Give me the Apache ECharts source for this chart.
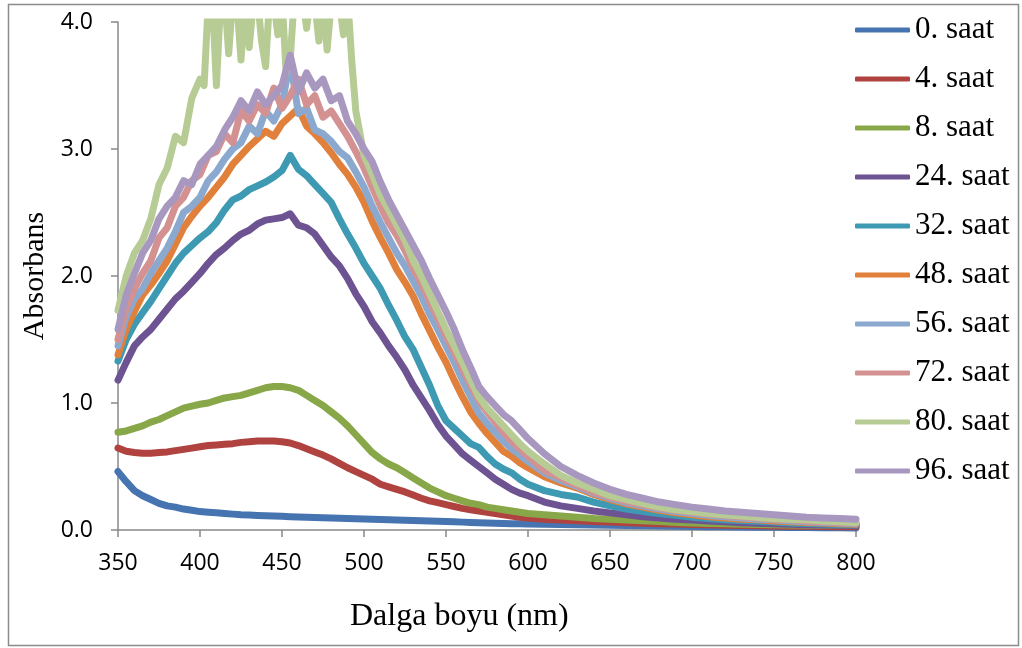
<!DOCTYPE html>
<html>
<head>
<meta charset="utf-8">
<script src="https://cdn.jsdelivr.net/npm/echarts@6/dist/echarts.min.js"></script>
<style>
  html, body { margin: 0; padding: 0; background: #ffffff; }
  #chart { width: 1022px; height: 648px; }
</style>
</head>
<body>
<div id="chart"></div>
<script>
// Wavelength grid (nm): 5 nm steps up to 600, then 10 nm steps
const wavelengths = [
  350,355,360,365,370,375,380,385,390,395,400,405,410,415,420,425,430,435,440,445,
  450,455,460,465,470,475,480,485,490,495,500,505,510,515,520,525,530,535,540,545,
  550,555,560,565,570,575,580,585,590,595,600,
  610,620,630,640,650,660,670,680,690,700,710,720,730,740,750,760,770,780,790,800
];

// The 80 h spectrum is very noisy around its maximum, so it is read on a finer grid there
const wavelengths80 = [
  350,355,360,365,370,375,380,385,390,395,400,
  402.5,405,407.5,410,412.5,415,417.5,420,422.5,425,427.5,430,432.5,435,437.5,440,442.5,445,447.5,450,
  452.5,455,457.5,460,462.5,465,467.5,470,472.5,475,477.5,480,482.5,485,487.5,490,492.5,495,
  500,505,510,515,520,525,530,535,540,545,550,555,560,565,570,575,580,585,590,595,600,
  610,620,630,640,650,660,670,680,690,700,710,720,730,740,750,760,770,780,790,800
];

const seriesNames = ['0. saat','4. saat','8. saat','24. saat','32. saat','48. saat','56. saat','72. saat','80. saat','96. saat'];

const abs0 = [
  0.46,0.38,0.31,0.27,0.24,0.21,0.19,0.18,0.165,0.155,0.145,0.14,0.135,0.13,0.125,0.12,0.118,0.115,0.112,0.11,
  0.108,0.105,0.103,0.10,0.098,0.096,0.094,0.092,0.09,0.088,0.086,0.084,0.082,0.08,0.078,0.076,0.074,0.072,0.07,0.068,
  0.066,0.064,0.062,0.06,0.058,0.056,0.054,0.052,0.05,0.049,0.048,
  0.046,0.044,0.042,0.04,0.038,0.036,0.034,0.032,0.03,0.028,0.026,0.025,0.024,0.022,0.021,0.02,0.019,0.018,0.017,0.016
];
const abs4 = [
  0.645,0.62,0.61,0.605,0.605,0.61,0.615,0.625,0.635,0.645,0.655,0.665,0.67,0.675,0.68,0.69,0.695,0.70,0.70,0.70,
  0.695,0.685,0.665,0.64,0.615,0.59,0.56,0.525,0.49,0.46,0.43,0.40,0.36,0.34,0.32,0.30,0.275,0.25,0.23,0.215,
  0.20,0.185,0.17,0.16,0.15,0.14,0.13,0.12,0.11,0.10,0.095,
  0.085,0.078,0.072,0.066,0.062,0.058,0.054,0.05,0.047,0.044,0.041,0.038,0.036,0.034,0.032,0.03,0.029,0.028,0.026,0.025
];
const abs8 = [
  0.77,0.78,0.80,0.82,0.85,0.87,0.90,0.93,0.96,0.975,0.99,1.00,1.02,1.04,1.05,1.06,1.08,1.10,1.12,1.13,
  1.13,1.12,1.10,1.06,1.02,0.98,0.93,0.88,0.82,0.75,0.68,0.61,0.56,0.52,0.49,0.45,0.41,0.37,0.33,0.30,
  0.27,0.25,0.23,0.21,0.20,0.18,0.17,0.16,0.15,0.14,0.13,
  0.12,0.11,0.10,0.09,0.085,0.078,0.072,0.066,0.06,0.056,0.052,0.049,0.046,0.044,0.042,0.04,0.038,0.037,0.036,0.035
];
const abs24 = [
  1.18,1.32,1.45,1.52,1.58,1.66,1.74,1.82,1.88,1.95,2.02,2.10,2.17,2.22,2.28,2.33,2.36,2.41,2.44,2.45,
  2.46,2.49,2.40,2.38,2.33,2.24,2.15,2.08,1.98,1.86,1.76,1.64,1.55,1.45,1.36,1.26,1.14,1.04,0.94,0.83,
  0.74,0.67,0.60,0.55,0.50,0.45,0.40,0.36,0.32,0.29,0.27,
  0.22,0.19,0.17,0.15,0.135,0.12,0.105,0.095,0.085,0.078,0.07,0.064,0.058,0.053,0.049,0.045,0.042,0.039,0.037,0.035
];
const abs32 = [
  1.33,1.50,1.62,1.71,1.80,1.90,2.00,2.10,2.18,2.24,2.30,2.35,2.42,2.52,2.60,2.63,2.68,2.71,2.74,2.78,
  2.83,2.95,2.84,2.79,2.72,2.65,2.58,2.45,2.33,2.22,2.10,2.00,1.90,1.77,1.65,1.52,1.42,1.28,1.14,0.98,
  0.86,0.80,0.74,0.68,0.65,0.58,0.52,0.48,0.45,0.40,0.36,
  0.31,0.28,0.26,0.22,0.19,0.165,0.145,0.13,0.115,0.10,0.09,0.08,0.075,0.068,0.062,0.056,0.052,0.048,0.044,0.04
];
const abs48 = [
  1.38,1.58,1.72,1.85,1.93,2.02,2.12,2.25,2.38,2.47,2.55,2.62,2.70,2.78,2.88,2.95,3.02,3.08,3.14,3.10,
  3.20,3.26,3.32,3.18,3.12,3.05,2.97,2.88,2.80,2.70,2.58,2.43,2.30,2.18,2.05,1.95,1.84,1.70,1.57,1.44,
  1.32,1.18,1.05,0.93,0.84,0.76,0.69,0.62,0.58,0.53,0.49,
  0.42,0.37,0.33,0.28,0.24,0.205,0.18,0.155,0.135,0.12,0.105,0.095,0.085,0.08,0.07,0.065,0.06,0.055,0.05,0.045
];
const abs56 = [
  1.45,1.68,1.82,1.90,2.02,2.12,2.22,2.35,2.50,2.55,2.62,2.75,2.82,2.92,3.00,3.05,3.18,3.12,3.30,3.22,
  3.35,3.70,3.28,3.32,3.15,3.12,3.06,2.98,2.93,2.82,2.70,2.55,2.42,2.30,2.18,2.08,1.96,1.84,1.70,1.58,
  1.45,1.32,1.18,1.05,0.92,0.84,0.77,0.70,0.64,0.59,0.54,
  0.45,0.39,0.34,0.29,0.25,0.215,0.19,0.165,0.145,0.13,0.115,0.105,0.095,0.085,0.08,0.07,0.065,0.06,0.055,0.05
];
const abs72 = [
  1.50,1.75,1.90,2.02,2.12,2.30,2.38,2.55,2.62,2.75,2.80,2.95,2.98,3.12,3.05,3.30,3.22,3.35,3.28,3.48,
  3.32,3.42,3.55,3.35,3.42,3.25,3.30,3.20,3.10,2.98,2.85,2.70,2.55,2.42,2.32,2.20,2.06,1.94,1.80,1.67,
  1.53,1.40,1.27,1.14,1.02,0.93,0.85,0.77,0.70,0.64,0.58,
  0.47,0.41,0.35,0.30,0.26,0.225,0.20,0.175,0.155,0.14,0.125,0.115,0.105,0.095,0.085,0.08,0.07,0.065,0.06,0.055
];
const abs80 = [
  1.73,2.00,2.18,2.28,2.45,2.72,2.85,3.10,3.05,3.40,3.55,
  3.50,4.15,4.20,3.50,4.15,4.20,3.75,4.20,4.15,3.70,4.20,3.80,4.15,4.20,3.85,3.65,4.20,4.15,3.90,4.20,
  3.60,3.70,4.20,4.15,4.20,3.95,4.20,4.15,3.85,4.20,3.78,4.15,4.20,4.15,3.90,4.20,3.70,3.30,
  2.95,2.80,2.64,2.52,2.40,2.28,2.12,2.00,1.86,1.72,1.58,1.45,1.32,1.18,1.05,0.96,0.89,0.82,0.75,0.68,0.62,
  0.52,0.43,0.37,0.32,0.27,0.24,0.21,0.18,0.16,0.145,0.13,0.12,0.11,0.10,0.09,0.085,0.08,0.07,0.065,0.06
];
const abs96 = [
  1.58,1.85,2.02,2.18,2.28,2.45,2.55,2.62,2.75,2.72,2.88,2.95,3.02,3.15,3.25,3.38,3.30,3.45,3.35,3.42,
  3.50,3.74,3.45,3.60,3.48,3.55,3.38,3.42,3.22,3.12,3.00,2.90,2.74,2.60,2.48,2.36,2.24,2.12,1.98,1.85,
  1.72,1.58,1.42,1.28,1.13,1.05,0.98,0.91,0.86,0.79,0.72,
  0.60,0.50,0.43,0.37,0.32,0.28,0.25,0.22,0.20,0.18,0.165,0.15,0.14,0.13,0.12,0.11,0.10,0.095,0.09,0.085
];

const seriesValues = [abs0, abs4, abs8, abs24, abs32, abs48, abs56, abs72, abs80, abs96];
const seriesGrids = [wavelengths, wavelengths, wavelengths, wavelengths, wavelengths,
                     wavelengths, wavelengths, wavelengths, wavelengths80, wavelengths];
const seriesColors = ['#4674B0','#B0433F','#88A748','#6D5392','#3E9AB2','#E0803A','#8BA8CF','#D39191','#B7CC95','#A898C0'];

const xTicks = { min: 350, max: 800, interval: 50 };
const yTicks = { min: 0, max: 4, interval: 1 };

const axisGray = '#898989';

const chart = echarts.init(document.getElementById('chart'), null, { renderer: 'canvas' });

chart.setOption({
  animation: false,
  backgroundColor: '#ffffff',
  grid: { left: 118, right: 166, top: 22, bottom: 118, containLabel: false },
  xAxis: {
    type: 'value',
    min: xTicks.min, max: xTicks.max, interval: xTicks.interval,
    axisLine: { show: true, lineStyle: { color: axisGray, width: 1.5 } },
    axisTick: { show: true, inside: false, length: 7, lineStyle: { color: axisGray, width: 1.5 } },
    axisLabel: { margin: 22, color: '#000', fontFamily: 'Open Sans', fontSize: 23 },
    splitLine: { show: false }
  },
  yAxis: {
    type: 'value',
    min: yTicks.min, max: yTicks.max, interval: yTicks.interval,
    name: 'Absorbans',
    nameLocation: 'middle',
    nameGap: 66,
    nameRotate: 90,
    nameTextStyle: { color: '#000', fontFamily: 'Liberation Serif', fontSize: 30 },
    axisLine: { show: true, lineStyle: { color: axisGray, width: 1.5 } },
    axisTick: { show: true, inside: false, length: 7, lineStyle: { color: axisGray, width: 1.5 } },
    axisLabel: { margin: 25, color: '#000', fontFamily: 'Open Sans', fontSize: 23,
                 formatter: v => v.toFixed(1) },
    splitLine: { show: false }
  },
  legend: {
    orient: 'vertical',
    left: 855,
    top: 14,
    itemWidth: 55,
    itemHeight: 5,
    itemGap: 17,
    icon: 'roundRect',
    padding: 0,
    textStyle: { color: '#000', fontFamily: 'Liberation Serif', fontSize: 31, lineHeight: 32, padding: [0, 0, 0, 0] },
    data: seriesNames
  },
  graphic: [
    {
      type: 'rect',
      shape: { x: 8.5, y: 4.5, width: 1010, height: 641 },
      style: { fill: 'none', stroke: '#8c8c8c', lineWidth: 1.5 },
      silent: true, z: -1
    },
    {
      type: 'text',
      left: 350, top: 601,
      style: { text: 'Dalga boyu (nm)', fill: '#000', font: '32px "Liberation Serif"' }
    }
  ],
  series: seriesNames.map((name, i) => ({
    name,
    type: 'line',
    showSymbol: false,
    symbol: 'none',
    clip: true,
    color: seriesColors[i],
    lineStyle: { width: 7, color: seriesColors[i], cap: 'round', join: 'round' },
    data: seriesGrids[i].map((w, j) => [w, seriesValues[i][j]])
  }))
});
</script>
</body>
</html>
